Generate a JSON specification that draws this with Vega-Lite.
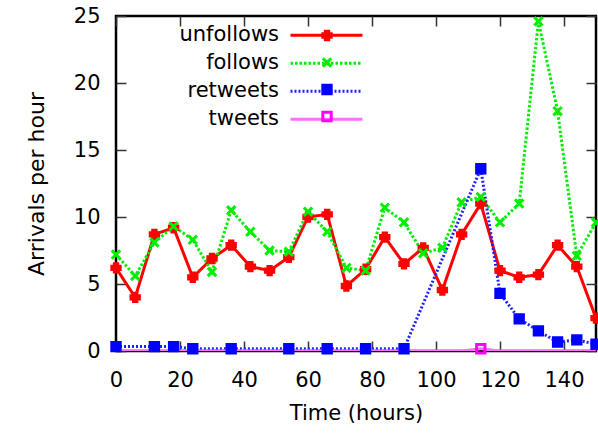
{
  "$schema": "https://vega.github.io/schema/vega-lite/v6.json",
  "width": 480,
  "height": 335,
  "autosize": "none",
  "padding": {"left": 116, "top": 16, "right": 2, "bottom": 82},
  "background": "white",
  "config": {
    "view": {"stroke": "black", "strokeWidth": 2.5},
    "font": "DejaVu Sans",
    "axis": {"grid": false}
  },
  "data": {
    "values": [
      {"t": 0, "series": "unfollows", "value": 6.2},
      {"t": 6, "series": "unfollows", "value": 4.0},
      {"t": 12, "series": "unfollows", "value": 8.7},
      {"t": 18, "series": "unfollows", "value": 9.2},
      {"t": 24, "series": "unfollows", "value": 5.5},
      {"t": 30, "series": "unfollows", "value": 6.9},
      {"t": 36, "series": "unfollows", "value": 7.9},
      {"t": 42, "series": "unfollows", "value": 6.3},
      {"t": 48, "series": "unfollows", "value": 6.0},
      {"t": 54, "series": "unfollows", "value": 7.0},
      {"t": 60, "series": "unfollows", "value": 10.0},
      {"t": 66, "series": "unfollows", "value": 10.2},
      {"t": 72, "series": "unfollows", "value": 4.85},
      {"t": 78, "series": "unfollows", "value": 6.1},
      {"t": 84, "series": "unfollows", "value": 8.5},
      {"t": 90, "series": "unfollows", "value": 6.5},
      {"t": 96, "series": "unfollows", "value": 7.7},
      {"t": 102, "series": "unfollows", "value": 4.55},
      {"t": 108, "series": "unfollows", "value": 8.7},
      {"t": 114, "series": "unfollows", "value": 11.0},
      {"t": 120, "series": "unfollows", "value": 6.0},
      {"t": 126, "series": "unfollows", "value": 5.5},
      {"t": 132, "series": "unfollows", "value": 5.7},
      {"t": 138, "series": "unfollows", "value": 7.9},
      {"t": 144, "series": "unfollows", "value": 6.3},
      {"t": 150, "series": "unfollows", "value": 2.45},
      {"t": 0, "series": "follows", "value": 7.2},
      {"t": 6, "series": "follows", "value": 5.6},
      {"t": 12, "series": "follows", "value": 8.1},
      {"t": 18, "series": "follows", "value": 9.3},
      {"t": 24, "series": "follows", "value": 8.3},
      {"t": 30, "series": "follows", "value": 5.9},
      {"t": 36, "series": "follows", "value": 10.5},
      {"t": 42, "series": "follows", "value": 8.9},
      {"t": 48, "series": "follows", "value": 7.5},
      {"t": 54, "series": "follows", "value": 7.4},
      {"t": 60, "series": "follows", "value": 10.4},
      {"t": 66, "series": "follows", "value": 8.9},
      {"t": 72, "series": "follows", "value": 6.2},
      {"t": 78, "series": "follows", "value": 6.0},
      {"t": 84, "series": "follows", "value": 10.7},
      {"t": 90, "series": "follows", "value": 9.6},
      {"t": 96, "series": "follows", "value": 7.3},
      {"t": 102, "series": "follows", "value": 7.7},
      {"t": 108, "series": "follows", "value": 11.1},
      {"t": 114, "series": "follows", "value": 11.5},
      {"t": 120, "series": "follows", "value": 9.6},
      {"t": 126, "series": "follows", "value": 11.0},
      {"t": 132, "series": "follows", "value": 24.6},
      {"t": 138, "series": "follows", "value": 17.9},
      {"t": 144, "series": "follows", "value": 7.1},
      {"t": 150, "series": "follows", "value": 9.6},
      {"t": 0, "series": "retweets", "value": 0.33},
      {"t": 12, "series": "retweets", "value": 0.33},
      {"t": 18, "series": "retweets", "value": 0.33},
      {"t": 24, "series": "retweets", "value": 0.17},
      {"t": 36, "series": "retweets", "value": 0.17},
      {"t": 54, "series": "retweets", "value": 0.17},
      {"t": 66, "series": "retweets", "value": 0.17},
      {"t": 78, "series": "retweets", "value": 0.17},
      {"t": 90, "series": "retweets", "value": 0.17},
      {"t": 114, "series": "retweets", "value": 13.6},
      {"t": 120, "series": "retweets", "value": 4.3},
      {"t": 126, "series": "retweets", "value": 2.4},
      {"t": 132, "series": "retweets", "value": 1.5},
      {"t": 138, "series": "retweets", "value": 0.67},
      {"t": 144, "series": "retweets", "value": 0.83},
      {"t": 150, "series": "retweets", "value": 0.5},
      {"t": 0, "series": "tweets", "value": 0},
      {"t": 6, "series": "tweets", "value": 0},
      {"t": 12, "series": "tweets", "value": 0},
      {"t": 18, "series": "tweets", "value": 0},
      {"t": 24, "series": "tweets", "value": 0},
      {"t": 30, "series": "tweets", "value": 0},
      {"t": 36, "series": "tweets", "value": 0},
      {"t": 42, "series": "tweets", "value": 0},
      {"t": 48, "series": "tweets", "value": 0},
      {"t": 54, "series": "tweets", "value": 0},
      {"t": 60, "series": "tweets", "value": 0},
      {"t": 66, "series": "tweets", "value": 0},
      {"t": 72, "series": "tweets", "value": 0},
      {"t": 78, "series": "tweets", "value": 0},
      {"t": 84, "series": "tweets", "value": 0},
      {"t": 90, "series": "tweets", "value": 0},
      {"t": 96, "series": "tweets", "value": 0},
      {"t": 102, "series": "tweets", "value": 0},
      {"t": 108, "series": "tweets", "value": 0},
      {"t": 114, "series": "tweets", "value": 0.17},
      {"t": 120, "series": "tweets", "value": 0},
      {"t": 126, "series": "tweets", "value": 0},
      {"t": 132, "series": "tweets", "value": 0},
      {"t": 138, "series": "tweets", "value": 0},
      {"t": 144, "series": "tweets", "value": 0},
      {"t": 150, "series": "tweets", "value": 0}
    ]
  },
  "layer": [
    {
      "mark": {"type": "line", "clip": true},
      "encoding": {
        "x": {
          "field": "t", "type": "quantitative",
          "scale": {"domain": [0, 150], "nice": false, "zero": false},
          "axis": {
            "orient": "bottom", "values": [0, 20, 40, 60, 80, 100, 120, 140],
            "domain": false, "tickSize": -10, "tickColor": "#333333", "tickWidth": 1.5,
            "labelPadding": 28, "labelFont": "DejaVu Sans", "labelFontSize": 21, "labelColor": "black",
            "labelFlush": false, "labelDx": 2, "labelOverlap": false,
            "title": "Time (hours)", "titleFont": "DejaVu Sans", "titleFontSize": 21,
            "titleFontWeight": "normal", "titleColor": "black", "titlePadding": 12
          }
        },
        "y": {
          "field": "value", "type": "quantitative",
          "scale": {"domain": [0, 25], "nice": false},
          "axis": {
            "orient": "left", "values": [0, 5, 10, 15, 20, 25],
            "domain": false, "tickSize": -10, "tickColor": "#333333", "tickWidth": 1.5,
            "labelPadding": 26, "labelFont": "DejaVu Sans", "labelFontSize": 21, "labelColor": "black",
            "labelOverlap": false,
            "title": "Arrivals per hour", "titleFont": "DejaVu Sans", "titleFontSize": 22,
            "titleFontWeight": "normal", "titleColor": "black", "titlePadding": 25
          }
        },
        "stroke": {
          "field": "series", "type": "nominal",
          "scale": {"domain": ["unfollows", "follows", "retweets", "tweets"], "range": ["#ff0000", "#00ee00", "#2020ff", "#ff70ff"]},
          "legend": {
            "orient": "none", "legendX": 200, "legendY": 8.8, "title": null,
            "symbolType": "M-8,0H8", "symbolSize": 81,
            "labelAlign": "right", "labelOffset": -58, "labelBaseline": "middle",
            "labelFont": "DejaVu Sans", "labelFontSize": 21, "labelColor": "black",
            "rowPadding": 6, "padding": 0,
            "values": ["unfollows", "follows", "retweets", "tweets"]
          }
        },
        "strokeDash": {
          "field": "series", "type": "nominal",
          "scale": {"domain": ["unfollows", "follows", "retweets", "tweets"], "range": [[1, 0], [2.5, 2], [2, 2], [1, 0]]}
        },
        "strokeWidth": {
          "field": "series", "type": "nominal",
          "scale": {"domain": ["unfollows", "follows", "retweets", "tweets"], "range": [3, 3, 2, 2]}
        }
      }
    },
    {
      "transform": [{"filter": "datum.series != 'tweets' || datum.value > 0"}],
      "mark": {"type": "point", "filled": false, "strokeWidth": 3, "size": 70, "opacity": 1, "clip": false},
      "encoding": {
        "x": {
          "field": "t", "type": "quantitative",
          "scale": {"domain": [0, 150], "nice": false, "zero": false},
          "axis": {
            "orient": "top", "values": [0, 20, 40, 60, 80, 100, 120, 140],
            "domain": false, "labels": false, "title": null,
            "tickSize": -10, "tickColor": "#333333", "tickWidth": 1.5
          }
        },
        "y": {
          "field": "value", "type": "quantitative",
          "scale": {"domain": [0, 25], "nice": false},
          "axis": {
            "orient": "right", "values": [0, 5, 10, 15, 20, 25],
            "domain": false, "labels": false, "title": null,
            "tickSize": -10, "tickColor": "#333333", "tickWidth": 1.5
          }
        },
        "color": {
          "field": "series", "type": "nominal",
          "scale": {"range": ["#00ee00", "#0000ff", "#ff00ff", "#ff0000"]},
          "legend": {
            "orient": "none", "legendX": 200.5, "legendY": 6, "title": null,
            "symbolSize": 70, "symbolStrokeWidth": 3, "symbolOpacity": 1,
            "labelOpacity": 0, "labelFontSize": 21, "labelBaseline": "middle",
            "clipHeight": 27, "rowPadding": 0, "padding": 0,
            "values": ["unfollows", "follows", "retweets", "tweets"]
          }
        },
        "fill": {
          "field": "series", "type": "nominal",
          "scale": {"range": ["transparent", "#0000ff", "transparent", "#ff0000"]}
        },
        "shape": {
          "field": "series", "type": "nominal",
          "scale": {"range": ["M-1,-1L1,1M1,-1L-1,1", "square", "square", "cross"]}
        }
      }
    }
  ],
  "resolve": {"axis": {"x": "independent", "y": "independent"}}
}
